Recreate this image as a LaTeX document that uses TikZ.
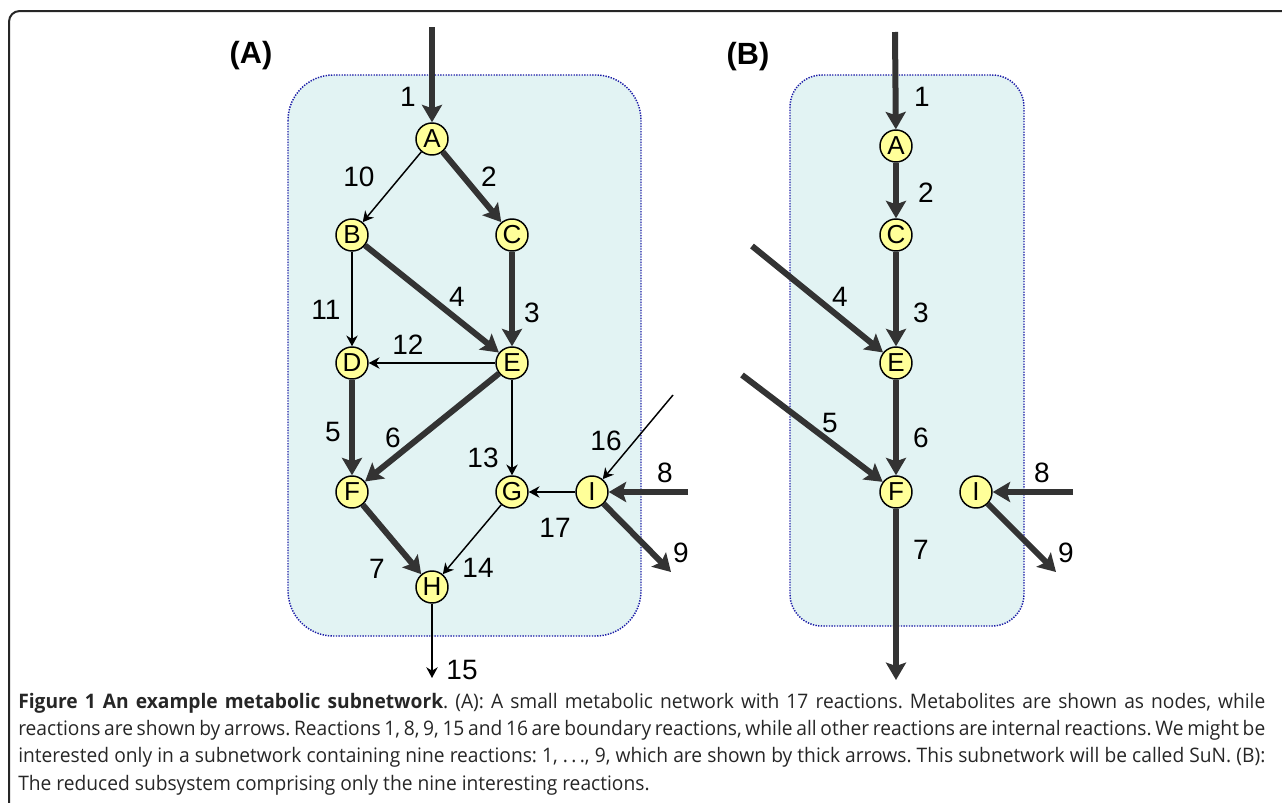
\documentclass[tikz,border=0pt]{standalone}
\usepackage{fontspec}
\setmainfont{Liberation Sans}
\newfontfamily\capfont[FakeStretch=0.96]{Open Sans}
\usetikzlibrary{arrows.meta}
\definecolor{boxfill}{HTML}{E2F3F3}
\definecolor{boxline}{HTML}{1A1AA6}
\definecolor{metfill}{HTML}{FFFF99}
\definecolor{heavy}{HTML}{333333}
\frenchspacing

\begin{document}
\begin{tikzpicture}[x=0.75pt,y=-0.75pt,
    met/.style={circle,draw,line width=1.1pt,fill=metfill,minimum size=24pt,inner sep=0pt,font=\fontsize{19.5}{19.5}\selectfont},
    minor/.style={-{Stealth[length=8pt,width=8.5pt,inset=2.5pt]},line width=1.1pt},
    major/.style={-{Stealth[length=13pt,width=15pt,inset=2.5pt]},line width=4.5pt,color=heavy},
    num/.style={font=\fontsize{21}{21}\selectfont,inner sep=0pt},
    panel/.style={font=\bfseries\fontsize{23}{23}\selectfont,inner sep=0pt},
    subbox/.style={draw=boxline,fill=boxfill,line width=1.1pt,dash pattern=on 1pt off 1pt},
    capline/.style={anchor=west,inner sep=0pt,font=\capfont\fontsize{15}{15}\selectfont,text=black!85}]
  \useasboundingbox (0,0) rectangle (1282,803);
  % frame
  \draw[line width=1.5pt,black!85,rounded corners=8pt] (9,820) -- (9,11) -- (1300,11);
  % subnetwork boxes
  \draw[subbox,rounded corners=34pt] (288,75) rectangle (641,636);
  \draw[subbox,rounded corners=24pt] (790,75) rectangle (1024,626);
  \node[panel] (pa) at (251,56) {(A)};
  \node[panel] (pb) at (748,57) {(B)};

  % panel (A)
  \node[met] (A) at (432,139) {A};
  \node[met] (B) at (352,235) {B};
  \node[met] (C) at (512,235) {C};
  \node[met] (D) at (352,363) {D};
  \node[met] (E) at (512,363) {E};
  \node[met] (F) at (352,492) {F};
  \node[met] (G) at (512,492) {G};
  \node[met] (I) at (592,492) {I};
  \node[met] (H) at (432,587) {H};
  \coordinate (in1) at (432,27);
  \coordinate (in16) at (673,395);
  \coordinate (in8) at (688,492);
  \coordinate (out9) at (671,572);
  \coordinate (out15) at (432,678);
  \draw[major] (in1) -- (A);
  \draw[major] (A) -- (C);
  \draw[major] (B) -- (E);
  \draw[major] (C) -- (E);
  \draw[major] (D) -- (F);
  \draw[major] (E) -- (F);
  \draw[major] (F) -- (H);
  \draw[major] (in8) -- (I);
  \draw[major] (I) -- (out9);
  \draw[minor] (A) -- (B);
  \draw[minor] (B) -- (D);
  \draw[minor] (E) -- (D);
  \draw[minor] (E) -- (G);
  \draw[minor] (I) -- (G);
  \draw[minor] (G) -- (H);
  \draw[minor] (in16) -- (I);
  \draw[minor] (H) -- (out15);
  \foreach \t/\x/\y in {1/408/97, 10/359/177, 2/489/177, 4/457/297, 11/326/310, 3/532/313,
      12/408/345, 5/333/432, 6/393/438, 13/483/458, 16/606/441, 8/665/473,
      17/555/528, 9/681/553, 7/377/569, 14/478/568, 15/462/670}
    \node[num] (la\t) at (\x,\y) {\t};

  % panel (B)
  \node[met] (bA) at (896,146) {A};
  \node[met] (bC) at (896,235) {C};
  \node[met] (bE) at (896,363) {E};
  \node[met] (bF) at (896,492) {F};
  \node[met] (bI) at (976,492) {I};
  \coordinate (bin1) at (895,32);
  \coordinate (bin4) at (752,246);
  \coordinate (bin5) at (742,375);
  \coordinate (bin8) at (1073,492);
  \coordinate (bout9) at (1056,572);
  \coordinate (bout7) at (896,680);
  \draw[major] (bin1) -- (bA);
  \draw[major] (bA) -- (bC);
  \draw[major] (bC) -- (bE);
  \draw[major] (bin4) -- (bE);
  \draw[major] (bin5) -- (bF);
  \draw[major] (bE) -- (bF);
  \draw[major] (bF) -- (bout7);
  \draw[major] (bin8) -- (bI);
  \draw[major] (bI) -- (bout9);
  \foreach \t/\x/\y in {1/922/97, 2/926/193, 4/840/297, 3/921/313, 5/830/423,
      6/921/438, 8/1042/473, 9/1066/553, 7/921/550}
    \node[num] (lb\t) at (\x,\y) {\t};

  % caption
  \node[capline] (cap1) at (18,703) {\makebox[935.25pt][s]{\textbf{Figure 1 An example metabolic subnetwork}. (A): A small metabolic network with 17 reactions. Metabolites are shown as nodes, while}};
  \node[capline] (cap2) at (18,730) {\makebox[935.25pt][s]{reactions are shown by arrows. Reactions 1, 8, 9, 15 and 16 are boundary reactions, while all other reactions are internal reactions. We might be}};
  \node[capline] (cap3) at (18,757) {\makebox[935.25pt][s]{interested only in a subnetwork containing nine reactions: 1, .\,.\,., 9, which are shown by thick arrows. This subnetwork will be called SuN. (B):}};
  \node[capline] (cap4) at (18,785) {The reduced subsystem comprising only the nine interesting reactions.};
\end{tikzpicture}
\end{document}
